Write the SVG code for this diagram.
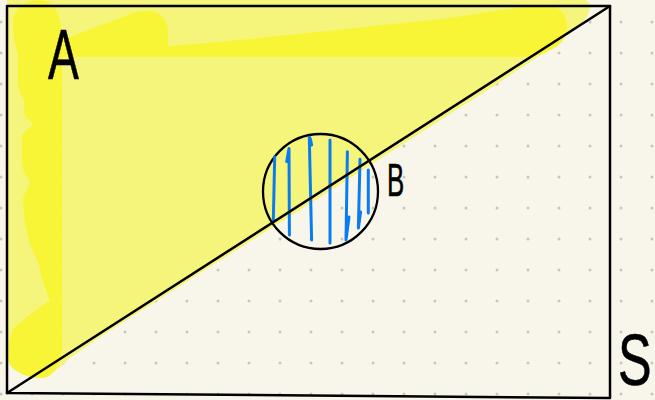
<svg xmlns="http://www.w3.org/2000/svg" width="655" height="400" viewBox="0 0 655 400">
  <defs>
    <pattern id="dots" x="1" y="22" width="31" height="31" patternUnits="userSpaceOnUse">
      <circle cx="0" cy="0" r="1.5" fill="#c9c7bc"/>
      <circle cx="31" cy="0" r="1.5" fill="#c9c7bc"/>
      <circle cx="0" cy="31" r="1.5" fill="#c9c7bc"/>
      <circle cx="31" cy="31" r="1.5" fill="#c9c7bc"/>
    </pattern>
  </defs>
  <style>
    .ink { fill: none; stroke: #000; stroke-linecap: round; stroke-linejoin: round; }
    .hatch { fill: none; stroke: #0a7cf0; stroke-width: 3; stroke-linecap: round; stroke-linejoin: round; }
    .lbl { font-family: "Liberation Sans", Arial, sans-serif; fill: #000; stroke: #000; stroke-width: 0.6; }
  </style>
  <rect width="655" height="400" fill="#f8f6eb"/>
  <rect width="655" height="400" fill="url(#dots)"/>

  <g id="region-A">
    <path fill="#f6f475" fill-opacity="0.95" d="M7,0 H586 C593,6 590,16 578,26 L548,50 L500,82 L400,146 L300,210 L200,273 L100,337 L70,358 C55,372 45,380 35,378 C20,375 10,368 7,358 Z"/>
    <path fill="#f8f536" d="M13,25 C13,6 28,0 40,0 C55,0 62,15 62,40 L133,13 C152,7 168,13 168,32 L168,46 C250,40 330,30 433,20 C480,14 520,6 545,5 C560,5 568,15 567,30 C566,40 558,48 540,55 L525,57 L62,57 L62,350 C60,366 52,378 42,378 C30,378 17,374 10,365 C7,355 8,343 13,329 C24,318 40,308 50,300 C45,290 40,272 38,262 C33,250 27,240 27,230 C24,222 24,215 23,200 C24,192 30,186 30,181 C25,176 22,170 22,160 L22,135 C26,130 32,127 33,123 C28,120 24,116 24,110 L24,100 C22,96 19,91 18,85 L18,55 C15,45 13,35 13,25 Z"/>
  </g>

  <g id="region-B">
    <circle cx="320.5" cy="191.5" r="57.5" class="ink" stroke-width="2.3"/>
    <path class="hatch" d="M274.7,157 L273.3,221.7"/>
    <path class="hatch" d="M286.7,161.5 L289,148.5 L289.4,235"/>
    <path class="hatch" d="M311.6,145 Q310,136 309.3,137.5 L311.6,240"/>
    <path class="hatch" d="M330,140 L330,243"/>
    <path class="hatch" d="M347.4,151.7 L346,240 L349,217"/>
    <path class="hatch" d="M360,159.3 L358.4,228 L360.6,212"/>
    <path class="hatch" d="M368.3,170 L368.3,213"/>
  </g>

  <g id="connectors">
    <path class="ink" stroke-width="2.5" d="M7,6 H610 V398 L7,393 Z"/>
    <path class="ink" stroke-width="2.5" d="M7,393 L610,6"/>
  </g>

  <g id="labels">
    <text class="lbl" transform="translate(48,79) scale(0.66,1)" font-size="70">A</text>
    <text class="lbl" transform="translate(387,196) scale(0.55,1)" font-size="47">B</text>
    <text class="lbl" transform="translate(618,385) scale(0.7,1)" font-size="72">S</text>
  </g>
</svg>
